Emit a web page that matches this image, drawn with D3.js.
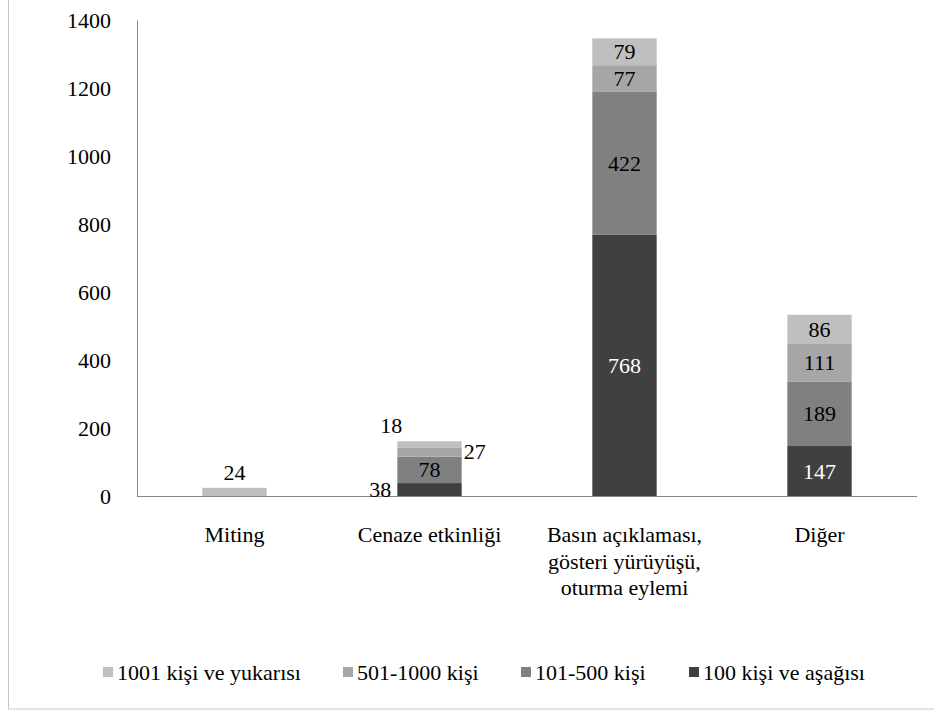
<!doctype html>
<html>
<head>
<meta charset="utf-8">
<script src="https://d3js.org/d3.v7.min.js"></script>
<style>
  body { margin: 0; background: #fff; }
</style>
</head>
<body>
<svg id="chart" width="934" height="713"></svg>
<script>
// chart data
var categories = ["Miting", "Cenaze etkinliği", "Basın açıklaması,\ngösteri yürüyüşü,\noturma eylemi", "Diğer"];
var seriesNames = ["100 kişi ve aşağısı", "101-500 kişi", "501-1000 kişi", "1001 kişi ve yukarısı"];
var under100 = [0, 38, 768, 147];
var from101to500 = [0, 78, 422, 189];
var from501to1000 = [0, 27, 77, 111];
var over1000 = [24, 18, 79, 86];
var yTicks = [0, 200, 400, 600, 800, 1000, 1200, 1400];
var legendOrder = ["1001 kişi ve yukarısı", "501-1000 kişi", "101-500 kişi", "100 kişi ve aşağısı"];

var colors = {
  "100 kişi ve aşağısı": "#404040",
  "101-500 kişi": "#808080",
  "501-1000 kişi": "#a6a6a6",
  "1001 kişi ve yukarısı": "#bfbfbf"
};

var FONT = "Liberation Serif";
var svg = d3.select("#chart").style("font-family", FONT);

// outer frame
svg.append("rect")
  .attr("x", 8.5).attr("y", -5).attr("width", 940).attr("height", 714)
  .attr("fill", "none").attr("stroke", "#c8c8c8").attr("stroke-width", 1);

var x = d3.scaleBand().domain(categories).range([137, 917]).paddingInner(0.67).paddingOuter(0.335);
var y = d3.scaleLinear().domain([0, 1400]).range([496, 20]);

// build stack
var rows = categories.map(function(c, i) {
  var r = { cat: c };
  r[seriesNames[0]] = under100[i];
  r[seriesNames[1]] = from101to500[i];
  r[seriesNames[2]] = from501to1000[i];
  r[seriesNames[3]] = over1000[i];
  return r;
});
var stacked = d3.stack().keys(seriesNames)(rows);

var layers = svg.append("g").selectAll("g").data(stacked).enter().append("g")
  .attr("fill", function(d) { return colors[d.key]; });

layers.selectAll("rect").data(function(d) { return d.filter(function(p) { return p[1] - p[0] > 0; }); })
  .enter().append("rect")
  .attr("x", function(d) { return x(d.data.cat); })
  .attr("width", x.bandwidth())
  .attr("y", function(d) { return y(d[1]); })
  .attr("height", function(d) { return y(d[0]) - y(d[1]); });

// axes
var yAxis = svg.append("g").attr("transform", "translate(137,0)")
  .call(d3.axisLeft(y).tickValues(yTicks).tickSize(0).tickPadding(26).tickFormat(d3.format("d")));
yAxis.attr("font-family", null);
yAxis.select(".domain").attr("stroke", "#868686");
yAxis.selectAll("text").attr("font-size", 22).attr("fill", "#000").style("font-family", FONT);

svg.append("line").attr("x1", 137).attr("x2", 917).attr("y1", 496.5).attr("y2", 496.5)
  .attr("stroke", "#868686");

// category labels
categories.forEach(function(c) {
  var t = svg.append("text").attr("text-anchor", "middle").attr("font-size", 22).attr("fill", "#000")
    .style("font-family", FONT);
  c.split("\n").forEach(function(line, k) {
    t.append("tspan").attr("x", x(c) + x.bandwidth() / 2).attr("y", 542 + k * 26.5).text(line);
  });
});

// value labels
var labels = svg.append("g").attr("font-size", 22);
stacked.forEach(function(layer, si) {
  layer.forEach(function(p, ci) {
    var v = p[1] - p[0];
    if (v <= 0) return;
    var x0 = x(p.data.cat), bw = x.bandwidth();
    var top = y(p[1]), bot = y(p[0]), h = bot - top;
    var tx = x0 + bw / 2, ty = (top + bot) / 2 + 7.5, anchor = "middle";
    var dark = colors[layer.key] === "#404040";
    if (h < 20) {
      dark = false;
      if (si === 0) { tx = x0 - 6; anchor = "end"; }
      else if (si === 2) { tx = x0 + bw + 2; anchor = "start"; }
      else {
        ty = top - 8;
        // push left when the segment below is labelled on the right
        if (ci > 0 && (stacked[2][ci][1] - stacked[2][ci][0]) > 0) { tx = x0 + 5; anchor = "end"; }
      }
    }
    labels.append("text").attr("x", tx).attr("y", ty).attr("text-anchor", anchor)
      .attr("fill", dark ? "#fff" : "#000").style("font-family", FONT).text(v);
  });
});

// legend
var legendX = [103, 343, 521, 689];
var lg = svg.append("g");
legendOrder.forEach(function(name, i) {
  lg.append("rect").attr("x", legendX[i]).attr("y", 667).attr("width", 10).attr("height", 10)
    .attr("fill", colors[name]);
  lg.append("text").attr("x", legendX[i] + 14).attr("y", 680).attr("font-size", 22)
    .attr("fill", "#000").style("font-family", FONT).text(name);
});
</script>
</body>
</html>
